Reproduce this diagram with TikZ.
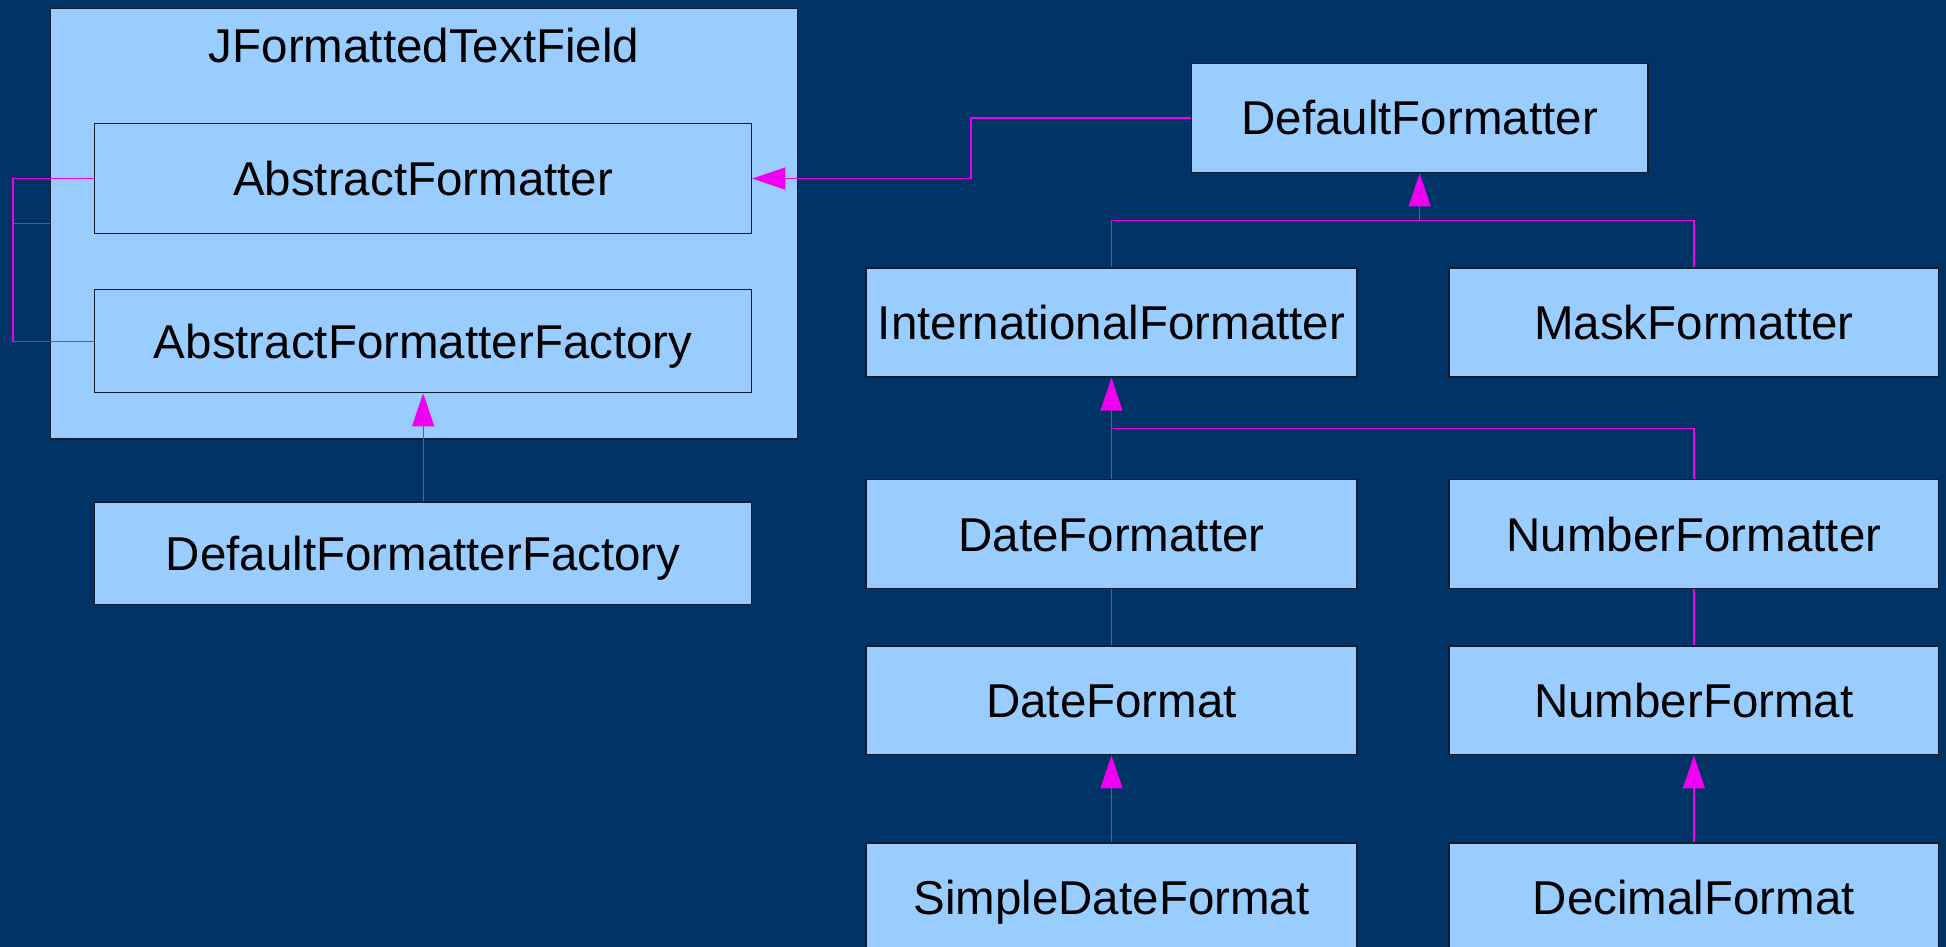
\documentclass[tikz,border=0pt]{standalone}
\usepackage{fontspec}
\setmainfont{Liberation Sans}
\usetikzlibrary{arrows.meta}
\definecolor{bg}{HTML}{003366}
\definecolor{boxfill}{HTML}{99CCFF}
\definecolor{connc}{HTML}{F000F0}
\definecolor{boxline}{HTML}{141C2A}
\begin{document}
\begin{tikzpicture}[x=1pt,y=-1pt,
  cls/.style={draw=boxline, line width=1.3pt, fill=boxfill, inner sep=0pt,
    font=\fontsize{47.5}{57}\selectfont, text=black, text height=34pt, text depth=0pt},
  lbl/.style={inner sep=0pt, font=\fontsize{47.5}{57}\selectfont, text=black, text height=34pt, text depth=0pt},
  conn/.style={draw=connc, line width=1.3pt},
  inh/.style={conn, -{Triangle[length=33pt,width=22pt]}, connc}
]
\useasboundingbox (0,0) rectangle (1946,947);
\clip (0,0) rectangle (1946,947);
\fill[bg] (0,0) rectangle (1946,947);

% left group
\node[cls, minimum width=746.9pt, minimum height=430.2pt] (jftf) at (424.15,223.8) {};
\node[lbl] (jtitle) at (424,45.5) {JFormattedTextField};
\node[cls, minimum width=656.9pt, minimum height=109.5pt] (af) at (423.15,178.55) {AbstractFormatter};
\node[cls, minimum width=656.9pt, minimum height=102.8pt] (aff) at (423.15,341.2) {AbstractFormatterFactory};
\node[cls, minimum width=656.9pt, minimum height=102.2pt] (dff) at (423.15,553.1) {DefaultFormatterFactory};

% right group
\node[cls, minimum width=456.7pt, minimum height=109.4pt] (df) at (1419.65,118) {DefaultFormatter};
\node[cls, minimum width=491pt, minimum height=109pt] (intf) at (1111.5,322.5) {InternationalFormatter};
\node[cls, minimum width=489.8pt, minimum height=109pt] (mf) at (1693.9,322.5) {MaskFormatter};
\node[cls, minimum width=491pt, minimum height=109.2pt] (datef) at (1111.5,534.1) {DateFormatter};
\node[cls, minimum width=489.8pt, minimum height=109.2pt] (nf) at (1693.9,534.1) {NumberFormatter};
\node[cls, minimum width=491pt, minimum height=108.8pt] (datefmt) at (1111.5,700.3) {DateFormat};
\node[cls, minimum width=489.8pt, minimum height=108.8pt] (nfmt) at (1693.9,700.3) {NumberFormat};
\node[cls, minimum width=491pt, minimum height=109pt] (sdf) at (1111.5,897.5) {SimpleDateFormat};
\node[cls, minimum width=489.8pt, minimum height=109pt] (decf) at (1693.9,897.5) {DecimalFormat};

% helper coordinates
\coordinate (bl) at (13,0);
\coordinate (bend) at (971,0);
\coordinate (j1y) at (0,220.3);
\coordinate (j2y) at (0,428.3);

% bracket on the left
\draw[conn] (af.west) -- (af.west -| bl) -- (aff.west -| bl) -- (aff.west);
\draw[conn] (jftf.west -| bl) -- (jftf.west);

% DefaultFormatterFactory -> AbstractFormatterFactory
\draw[inh] (dff.north) -- (aff.south);

% DefaultFormatter -> AbstractFormatter
\draw[inh] (df.west) -- (df.west -| bend) -- (af.east -| bend) -- (af.east);

% International/Mask -> DefaultFormatter
\draw[inh] (intf.north) |- (df.south |- j1y) -- (df.south);
\draw[conn] (mf.north) |- (df.south |- j1y);

% Date/Number formatter -> International
\draw[inh] (datef.north) -- (intf.south);
\draw[conn] (nf.north) |- (intf.south |- j2y);

% formatter to format (plain)
\draw[conn] (datef.south) -- (datefmt.north);
\draw[conn] (nf.south) -- (nfmt.north);

% concrete formats
\draw[inh] (sdf.north) -- (datefmt.south);
\draw[inh] (decf.north) -- (nfmt.south);
\end{tikzpicture}
\end{document}
